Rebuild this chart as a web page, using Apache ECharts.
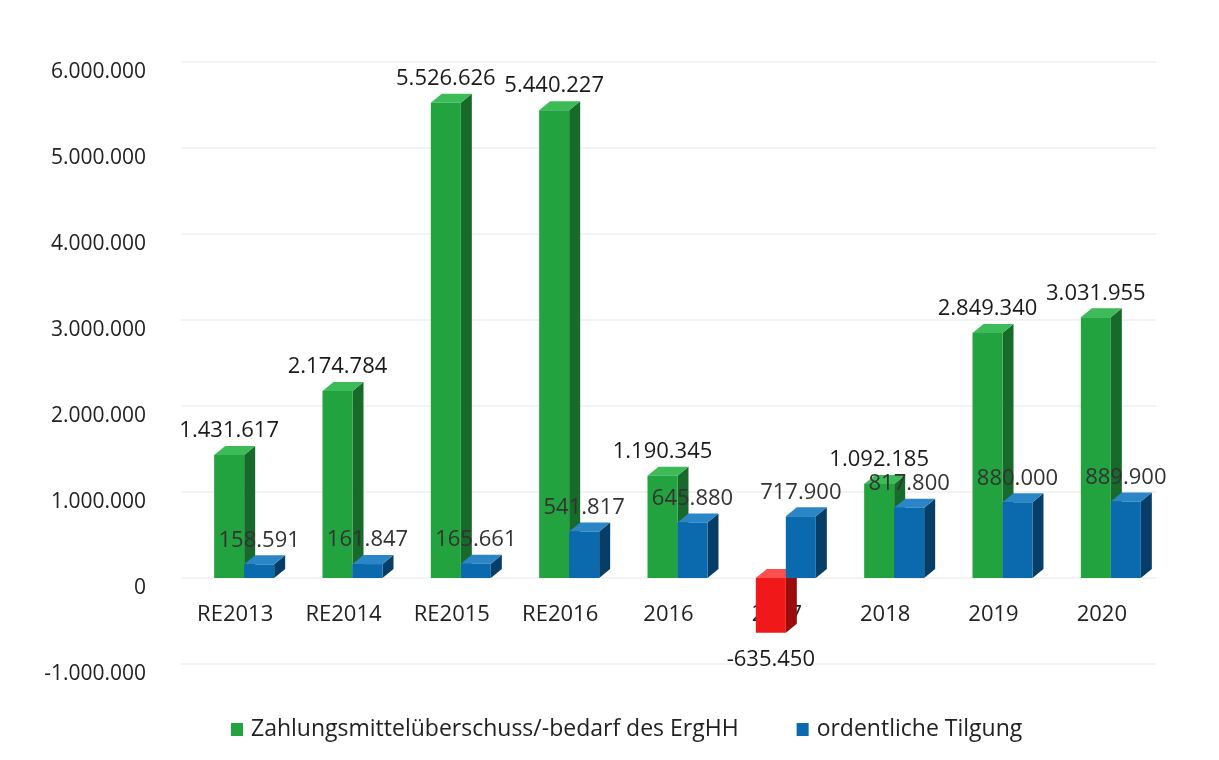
<!DOCTYPE html>
<html>
<head>
<meta charset="utf-8">
<script src="https://cdn.jsdelivr.net/npm/echarts@6/dist/echarts.min.js"></script>
<style>
  html, body { margin: 0; padding: 0; background: #fff; }
  #chart { width: 1219px; height: 760px; }
</style>
</head>
<body>
<div id="chart"></div>
<script>
    var categories = ['RE2013', 'RE2014', 'RE2015', 'RE2016', '2016', '2017', '2018', '2019', '2020'];
    var zahlungsmittel = [1431617, 2174784, 5526626, 5440227, 1190345, -635450, 1092185, 2849340, 3031955];
    var tilgung = [158591, 161847, 165661, 541817, 645880, 717900, 817800, 880000, 889900];

    var FONT = '"Open Sans", sans-serif';

    // 1234567 -> 1.234.567
    function fmt(v) {
        var s = String(Math.abs(Math.round(v)));
        s = s.replace(/\B(?=(\d{3})+(?!\d))/g, '.');
        return (v < 0 ? '-' : '') + s;
    }

    function toPairs(arr) {
        return arr.map(function (v, i) { return [i, v]; });
    }

    // pseudo 3d bar: front, side, top + value label
    function bar3d(offset, pos, neg, labelColor) {
        return function (params, api) {
            var idx = api.value(0);
            var v = api.value(1);
            var p = api.coord([idx, v]);
            var p0 = api.coord([idx, 0]);
            var w = 30, dx = 11, dy = -9;
            var x0 = p[0] + offset, x1 = x0 + w;
            var yTop = Math.min(p[1], p0[1]);
            var yBot = Math.max(p[1], p0[1]);
            var c = v < 0 ? neg : pos;
            var labelY = v < 0 ? yBot + 27 : yTop - 24;
            return {
                type: 'group',
                children: [
                    {
                        type: 'polygon',
                        shape: { points: [[x1, yTop], [x1 + dx, yTop + dy], [x1 + dx, yBot + dy], [x1, yBot]] },
                        style: { fill: c.side }
                    },
                    {
                        type: 'polygon',
                        shape: { points: [[x0, yTop], [x1, yTop], [x1 + dx, yTop + dy], [x0 + dx, yTop + dy]] },
                        style: { fill: c.top }
                    },
                    {
                        type: 'rect',
                        shape: { x: x0, y: yTop, width: w, height: yBot - yTop },
                        style: { fill: c.front }
                    },
                    {
                        type: 'text',
                        z2: 10,
                        style: {
                            text: fmt(v),
                            x: x0 + w / 2,
                            y: labelY,
                            align: 'center',
                            verticalAlign: 'middle',
                            fontSize: 22,
                            fontFamily: FONT,
                            fill: labelColor
                        }
                    }
                ]
            };
        };
    }

    var green = { front: '#22a33f', side: '#166a2a', top: '#3dbb58' };
    var red = { front: '#f01818', side: '#9b0d0d', top: '#ff5050' };
    var blue = { front: '#0b69ad', side: '#063e68', top: '#2b86c8' };

    var dom = document.getElementById('chart');
    var myChart = echarts.init(dom, null, { renderer: 'canvas' });

    var option = {
        backgroundColor: '#fff',
        animation: false,
        grid: { left: 181, right: 63, top: 62, bottom: 96 },
        legend: {
            left: 226,
            top: 713,
            itemWidth: 12,
            itemHeight: 13,
            itemGap: 58,
            icon: 'rect',
            textStyle: { fontSize: 23, fontFamily: FONT, color: '#222', padding: [0, 0, 0, 3] },
            data: ['Zahlungsmittelüberschuss/-bedarf des ErgHH', 'ordentliche Tilgung']
        },
        xAxis: {
            type: 'category',
            data: categories,
            offset: -86,
            axisLine: { show: false, onZero: false },
            axisTick: { show: false },
            axisLabel: { margin: 26, fontSize: 22, fontFamily: FONT, color: '#222' },
            z: 0
        },
        yAxis: {
            type: 'value',
            min: -1000000,
            max: 6000000,
            interval: 1000000,
            axisLine: { show: false },
            axisTick: { show: false },
            splitLine: { lineStyle: { color: '#efefef', width: 1.5 } },
            axisLabel: {
                margin: 35,
                fontSize: 21,
                fontFamily: FONT,
                color: '#222',
                verticalAlign: 'top',
                formatter: function (v) { return fmt(v); }
            }
        },
        series: [
            {
                name: 'Zahlungsmittelüberschuss/-bedarf des ErgHH',
                type: 'custom',
                itemStyle: { color: green.front },
                encode: { x: 0, y: 1 },
                renderItem: bar3d(-21, green, red, '#1a1a1a'),
                data: toPairs(zahlungsmittel)
            },
            {
                name: 'ordentliche Tilgung',
                type: 'custom',
                itemStyle: { color: blue.front },
                encode: { x: 0, y: 1 },
                renderItem: bar3d(9, blue, blue, '#333'),
                data: toPairs(tilgung)
            }
        ]
    };

    option && myChart.setOption(option);
</script>
</body>
</html>
